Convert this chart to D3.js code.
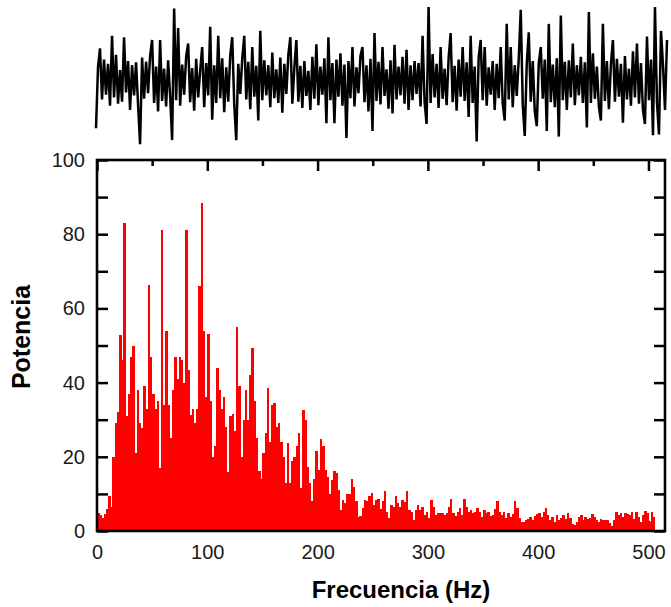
<!DOCTYPE html>
<html>
<head>
<meta charset="utf-8">
<script src="https://cdn.jsdelivr.net/npm/d3@7"></script>
<style>
  body { margin: 0; background: #fff; }
  svg { display: block; }
</style>
</head>
<body>
<svg id="chart"></svg>
<script>
// time signal (arbitrary units)
var signal = [
  -6.6, 2.1, 4.8, -2.5, 3.2, -1.8, 2.6, -3.4, 6.6, -2.2, 3.9, -3.1, 1.7, -2.8, 6.4, -1.5, 3.0, -4.0, 2.4, -1.9,
  2.8, -3.3, -8.9, 3.5, -2.4, 2.9, -1.6, 3.7, 6.0, -3.0, 2.2, -4.2, 6.0, -2.7, 1.9, -3.5, 3.1, -2.0, -8.3, 10.5,
  -2.6, 7.7, -3.4, 2.5, -1.8, 3.6, 5.5, -2.9, 2.0, -4.1, 3.3, -2.2, 1.6, 5.0, -3.6, 2.7, -1.9, 7.9, -5.4, 2.4,
  -3.0, 6.6, -2.3, 3.4, -4.3, 2.1, -2.8, 3.8, 6.4, -3.2, -8.3, 2.6, -1.7, 3.3, 6.6, -2.5, 2.9, -3.9, 5.0, -2.1,
  2.3, -5.5, 7.3, -2.6, 3.1, -1.9, 2.4, -3.6, 4.2, -2.3, 1.8, -3.0, 3.5, -4.4, 2.6, -1.7, 3.9, 6.4, -3.1, 2.0,
  6.0, -2.8, 2.3, -3.7, 3.0, -2.0, 1.6, -4.0, 3.6, -2.4, 5.4, -3.3, 2.2, -1.8, 3.4, -5.9, 6.4, -2.6, 2.7, -5.9,
  3.2, -2.1, 4.1, -3.4, 2.5, -8.0, 3.0, -2.3, 5.0, -3.5, 2.1, -1.6, 3.7, 5.0, -2.9, 2.4, -4.2, 3.3, -7.0, 7.0,
  -2.7, 2.9, -3.2, 5.0, -2.0, 1.8, -3.8, 3.1, -4.5, 5.3, -2.5, 2.2, -1.9, 3.6, -3.1, 4.6, -4.0, 2.4, -2.6, 3.0,
  -1.7, 2.7, -3.5, 6.6, -2.8, -6.0, 10.7, -3.0, 4.0, -2.2, 2.6, -3.7, 5.0, -2.4, 1.9, -3.3, 3.4, 7.0, -2.9, 2.3,
  -4.1, 3.2, -2.1, 5.0, -2.7, 2.8, -5.0, 6.6, -3.0, 2.2, -8.5, 3.5, 6.0, -2.6, 5.0, -3.4, 2.1, -1.8, 3.0, -4.0,
  2.6, -2.3, 5.0, -3.1, -5.5, 8.3, -2.5, 5.0, -3.6, 2.4, -2.0, 3.3, 10.3, -3.2, -7.7, 2.6, 7.1, -2.8, 3.0, -4.2,
  -6.3, 2.7, 5.0, -2.4, 3.2, -7.0, 8.3, -2.9, 2.5, -3.6, 3.4, -7.8, 9.5, -2.6, 2.9, -4.0, 3.1, -2.2, 5.5, -3.3,
  2.4, -1.9, 3.6, -3.0, 2.8, -6.5, 10.0, -3.0, 4.1, -2.4, 2.2, -3.5, -5.5, 8.3, -2.7, 3.0, -3.9, 2.5, 6.0, -2.8,
  3.3, -2.1, 2.6, -5.8, 3.7, -2.5, 1.9, -3.4, 4.4, -2.2, 5.5, -3.1, 2.7, -4.0, -6.0, 6.5, -2.6, 3.2, -7.6, 10.7,
  -3.0, -7.5, 7.3, 2.4, -4.0, 6.0
];

// power spectrum, one value every 2 Hz starting at 0 Hz
var spectrumStep = 2;
var spectrum = [
  4.8, 4.3, 3.6, 4.7, 6.0, 9.5, 6.5, 20, 29, 32, 52.8, 46, 83, 31, 37, 47, 50, 21, 38, 29,
  27.7, 39, 33, 66.4, 47, 37, 33, 35, 17, 81, 34, 54, 34, 25, 38, 47, 41, 47, 46, 40,
  81, 43.3, 31.3, 33, 29, 33, 66, 88.5, 54, 36, 53, 35, 20, 23, 44, 38, 33, 36, 28, 16,
  31, 31.5, 27, 55, 39, 20, 30, 38, 30, 42, 49.3, 35, 25, 16.3, 14, 21, 26.5, 38.5, 24, 34,
  34.4, 28, 29, 24, 20, 13, 23.6, 13, 19, 20, 23, 26.5, 11.5, 32.6, 30, 17.2, 13, 8, 14, 21.5,
  16.4, 24.7, 23, 16.4, 14.6, 10, 13.8, 16.1, 15.6, 11, 5.7, 8.4, 7.5, 10, 10, 14, 11.8, 8, 3.7, 4,
  6.3, 8.4, 8, 9.3, 10.3, 7, 8.4, 8.6, 6, 8, 10.9, 5, 3.4, 7, 6.6, 9.4, 7.5, 6.6, 8.3, 7.9,
  10.9, 5.7, 5.2, 3.0, 5.7, 7.0, 5.7, 6.6, 4.2, 5.2, 3.4, 8.4, 6.6, 4.3, 4.8, 4.9, 4.8, 4.3, 4.9, 6.6,
  8.6, 4.8, 4.0, 5.2, 6.1, 4.3, 8.6, 6.6, 5.2, 5.7, 4.9, 5.2, 6.1, 5.2, 3.9, 5.7, 4.8, 5.0, 4.0, 4.3,
  6, 8.1, 5.2, 4.3, 5.2, 3.4, 4.8, 3.9, 4.6, 8.2, 6.1, 3.4, 2.5, 2.5, 3.0, 3.1, 3.7, 3.0, 4.0, 4.6,
  4.9, 3.9, 5.2, 6.1, 4.3, 3.0, 3.7, 2.5, 4.3, 3.0, 3.4, 4.3, 3.2, 4.9, 3.5, 2.0, 1.6, 2.5, 3.7, 4.3,
  3.0, 3.7, 3.1, 3.5, 4.6, 3.9, 3.0, 2.5, 3.1, 2.9, 2.9, 3.0, 2.1, 1.3, 3.0, 5.2, 4.3, 4.9, 3.9, 4.9,
  4.6, 4.3, 5.2, 3.1, 5.2, 3.7, 2.5, 4.3, 5.5, 4.8, 2.5, 5.2, 3.7
];

var xTicks = [0, 100, 200, 300, 400, 500];
var xMinorTicks = [50, 150, 250, 350, 450];
var yTicks = [0, 20, 40, 60, 80, 100];
var yMinorTicks = [10, 30, 50, 70, 90];

var W = 671, H = 607;
var margin = {top: 160, right: 6, bottom: 76, left: 97};
var width = W - margin.left - margin.right;
var height = H - margin.top - margin.bottom;

var svg = d3.select('#chart')
  .attr('width', W)
  .attr('height', H)
  .style('font-family', '"Liberation Sans", Arial, sans-serif');

// ---- time trace on top ----
var tx = d3.scaleLinear().domain([0, signal.length - 1]).range([96, 667]);
var ty = d3.scaleLinear().domain([-10, 10]).range([152, 12]);

var trace = d3.line()
  .x(function(d, i) { return tx(i) })
  .y(function(d) { return ty(d) });

svg.append('path')
  .attr('d', trace(signal))
  .attr('fill', 'none')
  .attr('stroke', '#000')
  .attr('stroke-width', 2.5)
  .attr('stroke-linejoin', 'bevel');

// ---- spectrum ----
var g = svg.append('g')
  .attr('transform', 'translate(' + margin.left + ',' + margin.top + ')');

var x = d3.scaleLinear().domain([0, 515]).range([0, width]);
var y = d3.scaleLinear().domain([0, 100]).range([height, 0]);

function styleTicks(sel) {
  sel.select('.domain').remove();
  sel.selectAll('.tick line').attr('stroke', '#000').attr('stroke-width', 2.5);
  sel.selectAll('.tick text')
    .attr('fill', '#1a1a1a')
    .style('font-size', '20px');
}

// bottom ticks sit under the bars
g.append('g')
  .attr('transform', 'translate(0,' + height + ')')
  .call(d3.axisBottom(x).tickValues(xTicks).tickSize(-10).tickPadding(14).tickFormat(d3.format('d')))
  .call(styleTicks);

var bw = x(spectrumStep) - x(0);
g.append('g')
  .attr('shape-rendering', 'crispEdges')
  .selectAll('rect')
  .data(spectrum)
  .enter()
  .append('rect')
    .attr('x', function(d, i) { return x(i * spectrumStep) })
    .attr('y', function(d) { return y(d) })
    .attr('width', bw + 0.3)
    .attr('height', function(d) { return height - y(d) })
    .attr('fill', '#ff0000');

g.append('g')
  .call(d3.axisLeft(y).tickValues(yTicks.concat(yMinorTicks)).tickSize(-11).tickPadding(12)
    .tickFormat(function(d) { return yTicks.indexOf(d) >= 0 ? d : '' }))
  .call(styleTicks);

g.append('g')
  .attr('transform', 'translate(' + width + ',0)')
  .call(d3.axisRight(y).tickValues(yTicks.concat(yMinorTicks)).tickSize(-11).tickFormat(''))
  .call(styleTicks);

g.append('g')
  .call(d3.axisTop(x).tickValues(xTicks).tickSize(-11).tickFormat(''))
  .call(styleTicks);
g.append('g')
  .call(d3.axisTop(x).tickValues(xMinorTicks).tickSize(-6).tickFormat(''))
  .call(styleTicks);

g.append('rect')
  .attr('width', width)
  .attr('height', height)
  .attr('fill', 'none')
  .attr('stroke', '#000')
  .attr('stroke-width', 2.6);

// axis titles
svg.append('text')
  .attr('x', 401)
  .attr('y', 598)
  .attr('text-anchor', 'middle')
  .style('font-size', '24px')
  .style('font-weight', 'bold')
  .text('Frecuencia (Hz)');

svg.append('text')
  .attr('transform', 'translate(30,337) rotate(-90)')
  .attr('text-anchor', 'middle')
  .style('font-size', '25px')
  .style('font-weight', 'bold')
  .text('Potencia');
</script>
</body>
</html>
